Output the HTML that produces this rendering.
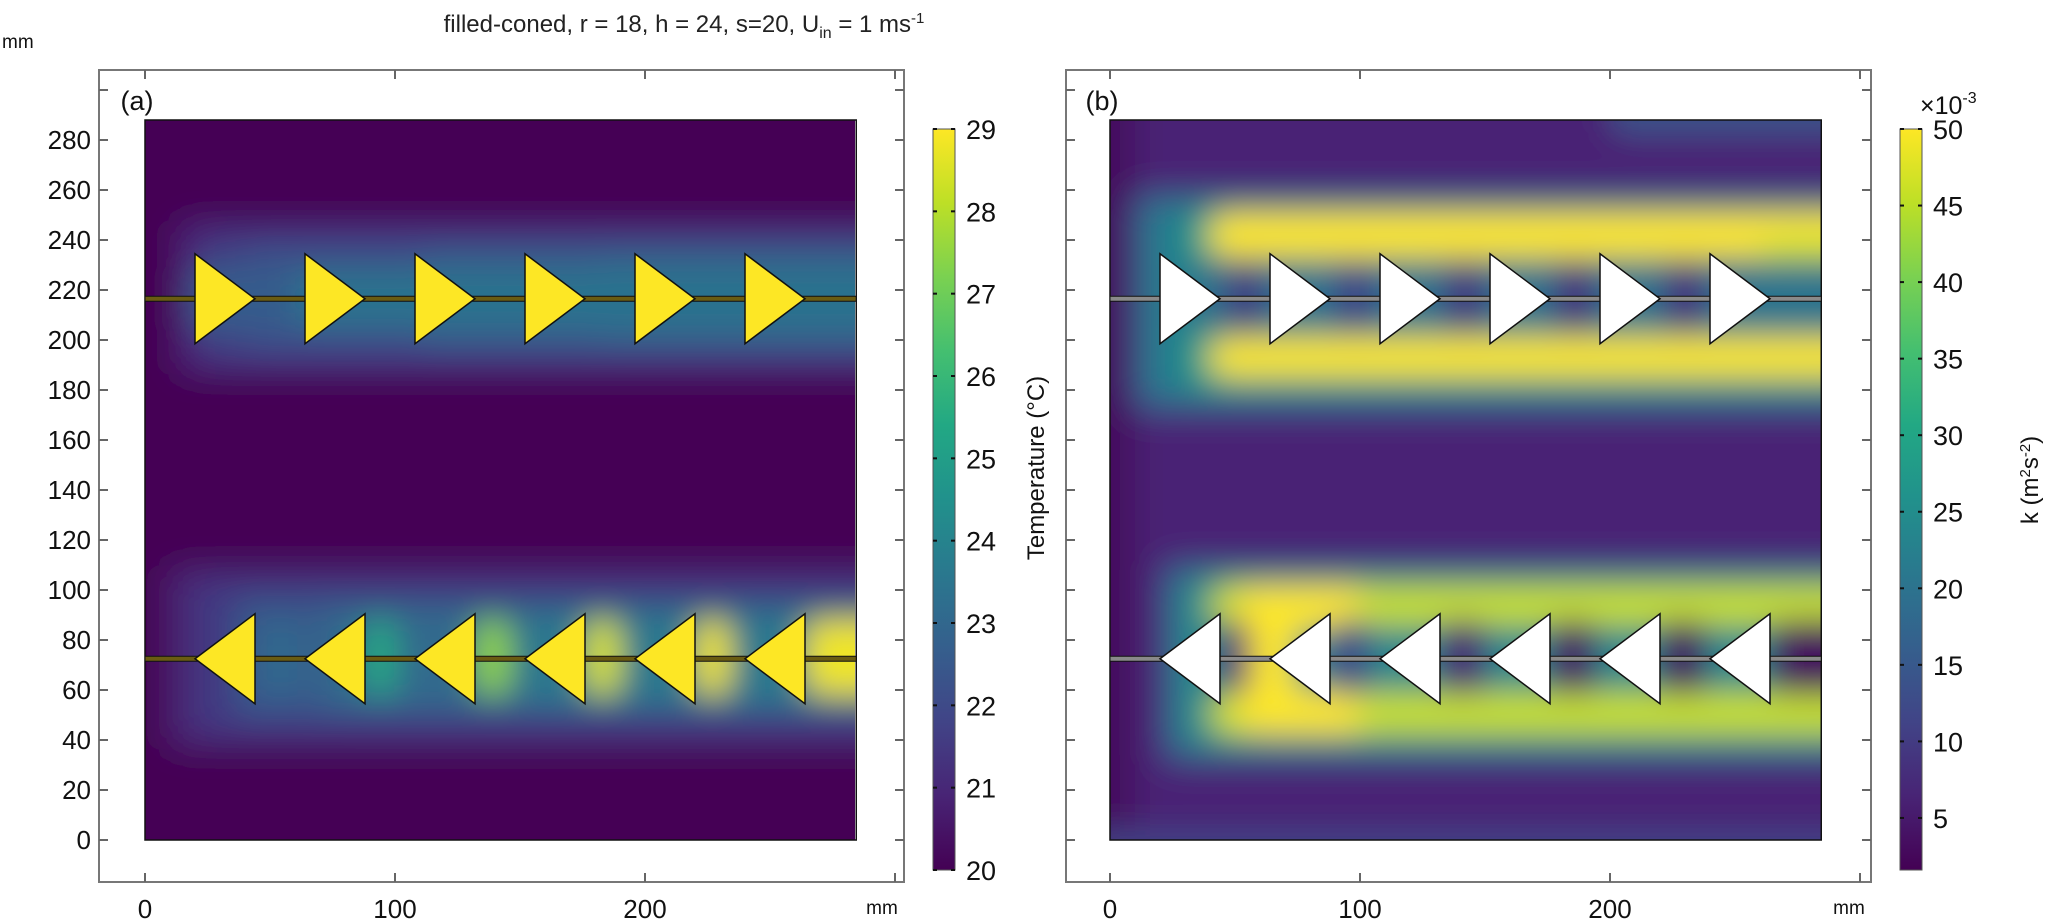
<!DOCTYPE html>
<html><head><meta charset="utf-8">
<style>
html,body{margin:0;padding:0;background:#fff;}
svg{display:block;font-family:"Liberation Sans","DejaVu Sans",sans-serif;}
</style></head>
<body>
<svg id="fig" width="2067" height="921" viewBox="0 0 2067 921" xmlns="http://www.w3.org/2000/svg">
<defs>
<filter id="blur" filterUnits="userSpaceOnUse" x="0" y="0" width="2067" height="921"><feGaussianBlur stdDeviation="16"/></filter>
<clipPath id="clipA"><rect x="145" y="120" width="710" height="720"/></clipPath>
<clipPath id="clipB"><rect x="1110" y="120" width="712" height="720"/></clipPath>
<linearGradient id="cbA" x1="0" y1="1" x2="0" y2="0"></linearGradient>
<linearGradient id="cbB" x1="0" y1="1" x2="0" y2="0"></linearGradient>
</defs>
<text x="684" y="32" text-anchor="middle" font-size="24" fill="#222">filled-coned, r = 18, h = 24, s=20, U<tspan font-size="16" dy="6">in</tspan><tspan dy="-6"> = 1 ms</tspan><tspan font-size="15" dy="-9">-1</tspan></text>
</svg>
<script>
// ---- data ----
const xTicks = [0, 100, 200, 300];
const xTickLabels = ["0", "100", "200"];
const yTicks = [0,20,40,60,80,100,120,140,160,180,200,220,240,260,280,300];
const yTickLabels = ["0","20","40","60","80","100","120","140","160","180","200","220","240","260","280"];
const finBases = [20, 64, 108, 152, 196, 240];
const finLength = 24;
const finHalfHeight = 18;
const upperLineY = 216.5;
const lowerLineY = 72.5;
const domainW = 284.5, domainH = 288;
const tempTicks = [20,21,22,23,24,25,26,27,28,29];
const kTicks = [5,10,15,20,25,30,35,40,45,50];
// temperature field bands [x0,x1,y0,y1,value] (mm, °C)
const tempBands = [
 [12,300,186,248,20.9],[22,300,191,242,21.6],[40,300,196,238,22.2],[110,300,198,235,22.8],[180,300,200,233,23.3],
 [18,300,203,230,22.6],[60,300,205,228,23.4],
 [8,300,36,110,20.8],[18,300,42,104,21.5],[35,300,49,97,22.4],[70,300,53,92,23.1],[150,300,55,90,23.6],
 [44,64,58,88,23],[88,100,58,88,25.5],[132,146,58,88,27.5],[176,190,58,88,28.5],[220,234,58,88,28.8],[264,300,58,88,28.8]
];
// turbulent kinetic energy bands [x0,x1,y0,y1,value] (mm, 1e-3 m2/s2)
const kBands = [
 [-20,10,-10,300,3],[200,300,282,300,14],[-10,300,-10,4,11],
 [8,300,170,260,14],[14,300,176,255,22],[30,300,180,251,28],
 [40,300,233,251,50],[260,300,210,240,46],[40,300,185,201,50],
 [30,300,203,232,20],[46,62,203,232,10],[90,106,203,232,11],[134,150,203,232,9],[178,194,203,232,8],[222,238,203,232,8],
 [20,300,30,112,14],[26,300,36,106,24],[40,300,86,102,46],[40,300,42,59,46],[50,74,44,101,50],[56,100,84,102,50],[56,100,42,60,50],
 [44,56,58,88,7],[88,104,58,88,12],[132,150,58,88,6],[176,194,58,88,4],[220,238,58,88,3],[264,300,58,88,3]
];
// ---- helpers ----
const NS = "http://www.w3.org/2000/svg";
const svg = document.getElementById('fig');
const vir = ["#440154","#482475","#414487","#355f8d","#2a788e","#21918c","#22a884","#44bf70","#7ad151","#bddf26","#fde725"];
function hex(c){return [1,3,5].map(i=>parseInt(c.substr(i,2),16));}
function viridis(t){t=Math.max(0,Math.min(1,t));const f=t*10,i=Math.min(9,Math.floor(f)),r=f-i;const a=hex(vir[i]),b=hex(vir[i+1]);return "rgb("+a.map((v,j)=>Math.round(v+(b[j]-v)*r)).join(",")+")";}
function el(tag, attrs, parent){const e=document.createElementNS(NS,tag);for(const k in attrs)e.setAttribute(k,attrs[k]);(parent||svg).appendChild(e);return e;}
function txt(x,y,s,size,anchor,parent){const t=el('text',{x:x,y:y,'font-size':size,'text-anchor':anchor||'middle',fill:'#111'},parent);t.textContent=s;return t;}
["cbA","cbB"].forEach(id=>{const g=document.getElementById(id);for(let i=0;i<=10;i++){el('stop',{offset:(i*10)+'%','stop-color':vir[i]},g);}});

function panel(cfg){
 const sx = v => cfg.x0 + v*2.5;
 const sy = v => 840 - v*2.5;
 const g = el('g',{});
 
 
 const fr = el('rect',{x:cfg.fx0,y:70,width:cfg.fx1-cfg.fx0,height:812,fill:'none',stroke:'#777','stroke-width':2},g);
 
 
 xTicks.forEach(v=>{const x=sx(v);
   el('line',{x1:x,x2:x,y1:70,y2:79,stroke:'#666','stroke-width':2},g);
   el('line',{x1:x,x2:x,y1:882,y2:873,stroke:'#666','stroke-width':2},g);});
 yTicks.forEach(v=>{const y=sy(v);
   el('line',{x1:cfg.fx0,x2:cfg.fx0+9,y1:y,y2:y,stroke:'#666','stroke-width':2},g);
   el('line',{x1:cfg.fx1,x2:cfg.fx1-9,y1:y,y2:y,stroke:'#666','stroke-width':2},g);});
 xTickLabels.forEach((s,i)=>{const t=txt(sx(xTicks[i]),918,s,26,'middle',g);
   
   });
 const mm=txt(cfg.fx1-22,914,'mm',19,'middle',g);
 
 
 if(cfg.yLabels){yTickLabels.forEach((s,i)=>{const t=txt(cfg.fx0-8,sy(yTicks[i])+9,s,26,'end',g);
   
   });
   const ym=txt(2,48,'mm',19,'start',g);
   
   }
 const lab=txt(cfg.fx0+38+(cfg.yLabels?0:-2),110,cfg.label,27,'middle',g);
 
 
 const fg = el('g',{'clip-path':'url(#'+cfg.clip+')'},g);
 
 
 el('rect',{x:sx(0),y:sy(domainH),width:domainW*2.5,height:domainH*2.5,fill:viridis(cfg.norm(cfg.bg))},fg);
 const bl = el('g',{filter:'url(#blur)'},fg);
 el('rect',{x:sx(-20),y:sy(domainH+20),width:(domainW+40)*2.5,height:(domainH+40)*2.5,fill:viridis(cfg.norm(cfg.bg))},bl);
 cfg.bands.forEach(b=>{const r=el('rect',{x:sx(b[0]),y:sy(b[3]),width:(b[1]-b[0])*2.5,height:(b[3]-b[2])*2.5,rx:14,fill:viridis(cfg.norm(b[4]))},bl);
   
   });
 const bd=el('rect',{x:sx(0),y:sy(domainH),width:domainW*2.5,height:domainH*2.5,fill:'none',stroke:'#111','stroke-width':1.5},g);
 
 
 [upperLineY, lowerLineY].forEach(ly=>{const y=sy(ly);
   el('rect',{x:sx(0),y:y-2.5,width:domainW*2.5,height:5,fill:cfg.lineFill,stroke:'#111','stroke-width':1},g);});
 finBases.forEach(b=>{
   const up=el('polygon',{points:sx(b)+','+sy(upperLineY+finHalfHeight)+' '+sx(b+finLength)+','+sy(upperLineY)+' '+sx(b)+','+sy(upperLineY-finHalfHeight),fill:cfg.finFill,stroke:'#111','stroke-width':1.5},g);
   
   
   const lo=el('polygon',{points:sx(b+finLength)+','+sy(lowerLineY+finHalfHeight)+' '+sx(b)+','+sy(lowerLineY)+' '+sx(b+finLength)+','+sy(lowerLineY-finHalfHeight),fill:cfg.finFill,stroke:'#111','stroke-width':1.5},g);
   
   
 });
 const cb=el('rect',{x:cfg.cbx,y:129,width:22,height:741,fill:'url(#'+cfg.grad+')',stroke:'#555','stroke-width':1},g);
 
 
 cfg.ticks.forEach(v=>{const y=870-cfg.norm(v)*741;
   el('line',{x1:cfg.cbx,x2:cfg.cbx+4,y1:y,y2:y,stroke:'#111','stroke-width':2},g);
   el('line',{x1:cfg.cbx+18,x2:cfg.cbx+22,y1:y,y2:y,stroke:'#111','stroke-width':2},g);
   const t=txt(cfg.cbx+33,y+10,String(v),27,'start',g);
   
   });
}
panel({name:'temperature-panel',x0:145,fx0:99,fx1:904,label:'(a)',yLabels:true,clip:'clipA',bg:20,bands:tempBands,
  norm:v=>(v-20)/9,lineFill:'#6a5c12',finFill:'#fde725',cbx:933,grad:'cbA',ticks:tempTicks});
panel({name:'tke-panel',x0:1110,fx0:1066,fx1:1871,label:'(b)',yLabels:false,clip:'clipB',bg:6.5,bands:kBands,
  norm:v=>(v-1.6)/48.4,lineFill:'#8a8a8a',finFill:'#ffffff',cbx:1900,grad:'cbB',ticks:kTicks});
const tt=el('text',{x:0,y:0,'font-size':24,'text-anchor':'middle',fill:'#111',transform:'translate(1044,468) rotate(-90)'});
tt.textContent='Temperature (°C)';


const kt=el('text',{x:0,y:0,'font-size':24,'text-anchor':'middle',fill:'#111',transform:'translate(2038,480) rotate(-90)'});
kt.innerHTML='k (m<tspan font-size="15" dy="-8">2</tspan><tspan dy="8">s</tspan><tspan font-size="15" dy="-8">-2</tspan><tspan dy="8">)</tspan>';


const mult=el('text',{x:1920,y:114,'font-size':25,fill:'#111'});
mult.innerHTML='×10<tspan font-size="16" dy="-11">-3</tspan>';


</script>
</body></html>
